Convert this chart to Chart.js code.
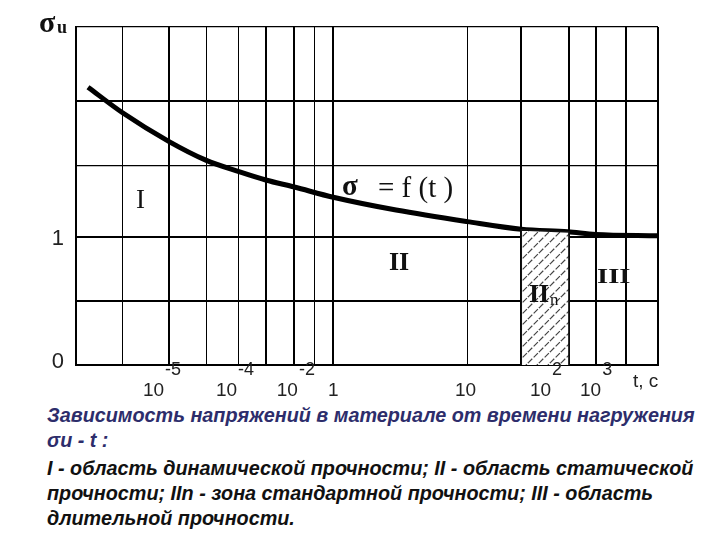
<!DOCTYPE html>
<html>
<head>
<meta charset="utf-8">
<script src="https://cdn.jsdelivr.net/npm/chart.js@4"></script>
<style>
  html, body { margin: 0; padding: 0; background: #fff; }
  #wrap { position: relative; width: 720px; height: 540px; overflow: hidden; }
  #chartBox { position: absolute; left: 0; top: 0; width: 720px; height: 400px; }
  .cap { position: absolute; left: 47px; font: italic bold 19.8px "Liberation Sans", Arial, sans-serif; white-space: nowrap; line-height: 22px; }
  .blue { color: #2d2d6b; }
  .black { color: #111; }
</style>
</head>
<body>
<div id="wrap">
  <div id="chartBox"><canvas id="myChart" width="720" height="400"></canvas></div>
  <div class="cap blue" style="top:404px">Зависимость напряжений в материале от времени нагружения</div>
  <div class="cap blue" style="top:429px">σu - t :</div>
  <div class="cap black" style="top:457px">I - область динамической прочности; II - область статической</div>
  <div class="cap black" style="top:482px">прочности; IIn - зона стандартной прочности; III - область</div>
  <div class="cap black" style="top:507px">длительной прочности.</div>
</div>
<script>
// ось времени условная (логарифмическая схема), 0..100
const xGrid = [0, 8, 16, 22.5, 28, 32.6, 37.5, 41, 44.2, 67.2, 76.5, 84.7, 89.3, 94.5, 100];
const xGridBold = [0, 16, 32.6, 37.5, 44.2, 76.5, 84.7, 89.3, 94.5, 100];
const yGrid = [0, 0.5, 1, 1.555, 2.065, 2.64];

// кривая σ = f(t)
const curveX = [2.06, 8, 16, 22.3, 28, 32.6, 37.5, 44.2, 55, 67.2, 76.5, 84.5, 89.3, 100];
const curveY = [2.17, 1.97, 1.745, 1.60, 1.51, 1.445, 1.39, 1.31, 1.21, 1.12, 1.06, 1.04, 1.02, 1.01];

// зона IIn (заштрихованная)
const zoneX = [76.5, 76.5, 84.7, 84.7];
const zoneY = [0, 1.055, 1.04, 0];

// подписи оси t
const tickBase = ['10', '10', '10', '1', '10', '10', '10', 't, c'];
const tickExp = ['-5', '-4', '-2', '', '', '2', '3', ''];
const tickPos = [11.5, 24.05, 34.5, 43.3, 65.1, 78.0, 86.6, 95.7];

const yLabels = ['0', '1'];
const yLabelVals = [0, 1];

// штриховка
function makeHatch() {
  const n = 11;
  const c = document.createElement('canvas');
  c.width = n; c.height = n;
  const g = c.getContext('2d');
  g.fillStyle = '#fff';
  g.fillRect(0, 0, n, n);
  g.strokeStyle = '#444';
  g.lineWidth = 1.2;
  g.setLineDash([6, 2]);
  g.beginPath();
  g.moveTo(0, n); g.lineTo(n, 0);
  g.stroke();
  g.setLineDash([]);
  g.beginPath();
  g.moveTo(-1, 1); g.lineTo(1, -1);
  g.moveTo(n - 1, n + 1); g.lineTo(n + 1, n - 1);
  g.stroke();
  return g.createPattern(c, 'repeat');
}

const labelsPlugin = {
  id: 'labels',
  afterDraw(chart) {
    const ctx = chart.ctx;
    const xs = chart.scales.x, ys = chart.scales.y;
    ctx.save();
    ctx.textBaseline = 'alphabetic';
    ctx.fillStyle = '#222';
    // подписи оси t
    for (let i = 0; i < tickBase.length; i++) {
      const px = xs.getPixelForValue(tickPos[i]);
      ctx.font = '19px "Liberation Sans", Arial, sans-serif';
      ctx.textAlign = 'left';
      ctx.fillText(tickBase[i], px, i === 7 ? 387 : 396);
      if (tickExp[i]) {
        const w = ctx.measureText(tickBase[i]).width;
        ctx.font = '18px "Liberation Sans", Arial, sans-serif';
        ctx.fillText(tickExp[i], px + w + 1, 375);
      }
    }
    // подписи оси σ
    ctx.font = '22px "Liberation Sans", Arial, sans-serif';
    ctx.textAlign = 'right';
    for (let i = 0; i < yLabels.length; i++) {
      ctx.fillText(yLabels[i], 64, ys.getPixelForValue(yLabelVals[i]) + (i === 0 ? 3 : 8));
    }
    // σu
    ctx.fillStyle = '#111';
    ctx.textAlign = 'left';
    ctx.font = 'bold 30px "Liberation Serif", "DejaVu Serif", serif';
    ctx.fillText('σ', 39, 32);
    ctx.font = 'bold 18px "Liberation Serif", "DejaVu Serif", serif';
    ctx.fillText('u', 57, 33);
    // области
    ctx.font = '27px "Liberation Serif", "DejaVu Serif", serif';
    ctx.fillText('I', 136, 208);
    ctx.font = 'bold 29px "Liberation Serif", "DejaVu Serif", serif';
    ctx.fillText('σ', 342, 195);
    ctx.font = '29px "Liberation Serif", "DejaVu Serif", serif';
    ctx.fillText('= f (t )', 378, 197);
    ctx.font = 'bold 26px "Liberation Serif", "DejaVu Serif", serif';
    ctx.fillText('II', 389, 270);
    ctx.fillText('II', 529, 302);
    ctx.font = 'bold 22px "Liberation Serif", "DejaVu Serif", serif';
    ctx.save();
    ctx.scale(1.3, 1);
    ctx.fillText('III', 597 / 1.3, 283);
    ctx.restore();
    ctx.font = '17px "Liberation Serif", "DejaVu Serif", serif';
    ctx.fillText('n', 550, 305);
    ctx.restore();
  }
};

const ctx = document.getElementById('myChart').getContext('2d');
const chart = new Chart(ctx, {
  type: 'line',
  data: {
    datasets: [
      {
        data: zoneX.map((x, i) => ({ x: x, y: zoneY[i] })),
        fill: 'origin',
        backgroundColor: makeHatch(),
        borderColor: '#111',
        borderWidth: 1.6,
        pointRadius: 0,
        tension: 0
      },
      {
        data: curveX.map((x, i) => ({ x: x, y: curveY[i] })),
        fill: false,
        borderColor: '#000',
        borderWidth: 5,
        pointRadius: 0,
        cubicInterpolationMode: 'monotone'
      }
    ]
  },
  options: {
    responsive: false,
    animation: false,
    layout: { padding: { left: 76, right: 62, top: 27, bottom: 35 } },
    plugins: { legend: { display: false }, tooltip: { enabled: false } },
    scales: {
      x: {
        type: 'linear', min: 0, max: 100,
        afterBuildTicks: s => { s.ticks = xGrid.map(v => ({ value: v })); },
        ticks: { display: false },
        grid: {
          drawTicks: false,
          color: '#000',
          lineWidth: c => (xGridBold.includes(c.tick.value) ? 2 : 1)
        },
        border: { display: true, color: '#000', width: 2 }
      },
      y: {
        type: 'linear', min: 0, max: 2.64,
        afterBuildTicks: s => { s.ticks = yGrid.map(v => ({ value: v })); },
        ticks: { display: false },
        grid: {
          drawTicks: false,
          color: '#000',
          lineWidth: c => (c.tick.value === 1.555 || c.tick.value === 2.64 ? 1.3 : 2)
        },
        border: { display: true, color: '#000', width: 2 }
      }
    }
  },
  plugins: [labelsPlugin]
});
</script>
</body>
</html>
